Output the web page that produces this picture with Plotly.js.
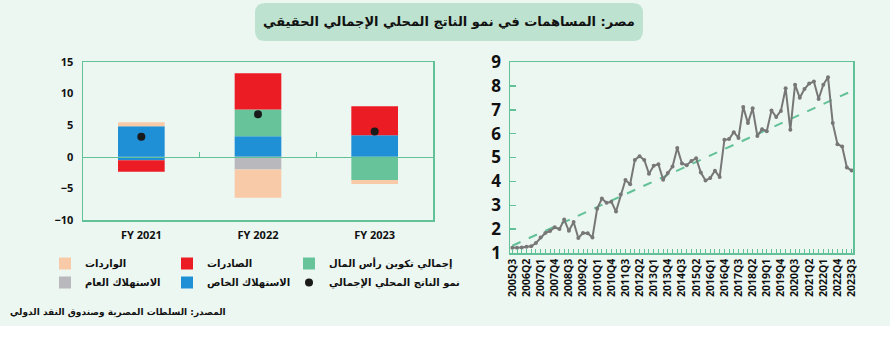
<!DOCTYPE html>
<html>
<head>
<meta charset="utf-8">
<script src="https://cdn.plot.ly/plotly-3.0.1.min.js"></script>
<style>html,body{margin:0;padding:0;background:#fff;}#chart{width:890px;height:341px;}</style>
</head>
<body>
<div id="chart"></div>
<script>
// ---------- Left chart data (contributions to real GDP growth, pp) ----------
const fiscalYears = ['FY 2021', 'FY 2022', 'FY 2023'];
const privateConsumption = [4.84, 3.26, 3.42];
const privateConsumptionBelowZero = [-0.53, 0, 0];
const governmentConsumption = [0, -2.0, 0];
const investment = [0, 4.21, -3.68];
const exportsContrib = [-1.84, 5.74, 4.58];
const importsContrib = [0.63, -4.47, -0.63];
const gdpGrowth = [3.16, 6.74, 4.0];

// ---------- Right chart data ----------
const quarters = [
 '2005Q3','2005Q4','2006Q1','2006Q2','2006Q3','2006Q4','2007Q1','2007Q2','2007Q3','2007Q4',
 '2008Q1','2008Q2','2008Q3','2008Q4','2009Q1','2009Q2','2009Q3','2009Q4','2010Q1','2010Q2',
 '2010Q3','2010Q4','2011Q1','2011Q2','2011Q3','2011Q4','2012Q1','2012Q2','2012Q3','2012Q4',
 '2013Q1','2013Q2','2013Q3','2013Q4','2014Q1','2014Q2','2014Q3','2014Q4','2015Q1','2015Q2',
 '2015Q3','2015Q4','2016Q1','2016Q2','2016Q3','2016Q4','2017Q1','2017Q2','2017Q3','2017Q4',
 '2018Q1','2018Q2','2018Q3','2018Q4','2019Q1','2019Q2','2019Q3','2019Q4','2020Q1','2020Q2',
 '2020Q3','2020Q4','2021Q1','2021Q2','2021Q3','2021Q4','2022Q1','2022Q2','2022Q3','2022Q4',
 '2023Q1','2023Q2','2023Q3'];
const quarterValues = [
 1.22,1.22,1.23,1.26,1.28,1.42,1.65,1.84,1.92,2.08,
 2.00,2.40,1.93,2.30,1.63,1.84,1.83,1.65,2.85,3.28,
 3.10,3.15,2.74,3.45,4.06,3.88,4.90,5.05,4.90,4.32,
 4.65,4.72,4.07,4.35,4.62,5.40,4.75,4.68,4.85,4.97,
 4.37,4.04,4.14,4.45,4.18,5.74,5.77,6.06,5.82,7.12,
 6.44,7.06,5.90,6.18,6.10,6.97,6.70,6.95,7.90,6.16,
 8.05,7.50,7.87,8.10,8.18,7.45,8.05,8.36,6.44,5.56,
 5.46,4.58,4.46];
const quarterTickLabels = ['2005Q3','2006Q2','2007Q1','2007Q4','2008Q3','2009Q2','2010Q1','2010Q4',
 '2011Q3','2012Q2','2013Q1','2013Q4','2014Q3','2015Q2','2016Q1','2016Q4','2017Q3','2018Q2',
 '2019Q1','2019Q4','2020Q3','2021Q2','2022Q1','2022Q4','2023Q3'];

// ---------- Texts ----------
const titleText = 'مصر: المساهمات في نمو الناتج المحلي الإجمالي الحقيقي';
const sourceText = 'المصدر: السلطات المصرية وصندوق النقد الدولي';
const names = {
  imports: 'الواردات', exports: 'الصادرات', investment: 'إجمالي تكوين رأس المال',
  gov: 'الاستهلاك العام', priv: 'الاستهلاك الخاص', gdp: 'نمو الناتج المحلي الإجمالي'
};

// ---------- Styling ----------
const W = 890, H = 341;
const fx = p => p / W, fy = p => 1 - p / H;
const GREEN = '#62c196', BG = '#edf7f2';
const C = {priv:'#1f8fd6', gov:'#b9b9bd', inv:'#66c39a', exp:'#ec1c24', imp:'#f8caa8', gdp:'#1a1a1a'};
const numFont = {family:'Open Sans, Liberation Sans, sans-serif', color:'#111', weight:'bold'};
const arFont = {family:'DejaVu Sans, sans-serif', color:'#111', weight:'bold'};

// least-squares trend from the quarterly series
const n = quarterValues.length;
const idx = quarterValues.map((_, i) => i);
const mx = idx.reduce((a, b) => a + b, 0) / n;
const my = quarterValues.reduce((a, b) => a + b, 0) / n;
let sxy = 0, sxx = 0;
idx.forEach(i => { sxy += (i - mx) * (quarterValues[i] - my); sxx += (i - mx) * (i - mx); });
const slope = sxy / sxx, icpt = my - slope * mx;
const trend = idx.map(i => icpt + slope * i);

const barBase = {type:'bar', x:fiscalYears, xaxis:'x', yaxis:'y', width:0.4, marker:{line:{width:0}}, hoverinfo:'y'};
const data = [
  Object.assign({}, barBase, {y:privateConsumption, name:names.priv, marker:{color:C.priv}, legend:'legend2', legendrank:2}),
  Object.assign({}, barBase, {y:privateConsumptionBelowZero, name:names.priv, marker:{color:C.priv}, showlegend:false}),
  Object.assign({}, barBase, {y:governmentConsumption, name:names.gov, marker:{color:C.gov}, legend:'legend', legendrank:2}),
  Object.assign({}, barBase, {y:investment, name:names.investment, marker:{color:C.inv}, legend:'legend3', legendrank:1}),
  Object.assign({}, barBase, {y:exportsContrib, name:names.exports, marker:{color:C.exp}, legend:'legend2', legendrank:1}),
  Object.assign({}, barBase, {y:importsContrib, name:names.imports, marker:{color:C.imp}, legend:'legend', legendrank:1}),
  {type:'scatter', mode:'markers', x:fiscalYears, y:gdpGrowth, xaxis:'x', yaxis:'y', name:names.gdp,
   marker:{color:C.gdp, size:8}, legend:'legend3', legendrank:2},
  {type:'scatter', mode:'lines', x:[], y:[], xaxis:'x2', yaxis:'y', showlegend:false, hoverinfo:'skip'},
  {type:'scatter', mode:'lines', x:quarters, y:trend, xaxis:'x3', yaxis:'y2', showlegend:false,
   line:{color:GREEN, width:2, dash:'dash'}},
  {type:'scatter', mode:'lines+markers', x:quarters, y:quarterValues, xaxis:'x3', yaxis:'y2', showlegend:false,
   line:{color:'#777', width:2}, marker:{color:'#777', size:4}}
];

const leftX = [fx(83), fx(433)], leftY = [fy(220), fy(62)];
const yRangeL = [-10, 15];
const zeroFrac = leftY[0] + (0 - yRangeL[0]) / (yRangeL[1] - yRangeL[0]) * (leftY[1] - leftY[0]);

function roundedRect(x0, y0, x1, y1, r) {
  const X = fx, Y = fy;
  return `M${X(x0+r)},${Y(y0)} L${X(x1-r)},${Y(y0)} Q${X(x1)},${Y(y0)} ${X(x1)},${Y(y0+r)} ` +
         `L${X(x1)},${Y(y1-r)} Q${X(x1)},${Y(y1)} ${X(x1-r)},${Y(y1)} L${X(x0+r)},${Y(y1)} ` +
         `Q${X(x0)},${Y(y1)} ${X(x0)},${Y(y1-r)} L${X(x0)},${Y(y0+r)} Q${X(x0)},${Y(y0)} ${X(x0+r)},${Y(y0)} Z`;
}

const legendCommon = {orientation:'v', bgcolor:'rgba(0,0,0,0)', font:Object.assign({}, arFont, {size:10}),
  xanchor:'left', yanchor:'top', tracegroupgap:0, itemclick:false, itemdoubleclick:false};

const layout = {
  width:W, height:H,
  margin:{l:0, r:0, t:0, b:0},
  paper_bgcolor:'#ffffff', plot_bgcolor:'rgba(0,0,0,0)',
  barmode:'relative', showlegend:true,
  xaxis:{domain:leftX, anchor:'y', type:'category', range:[-0.5, 2.5], showline:true, mirror:true,
    linecolor:GREEN, linewidth:1.5, ticks:'', showgrid:false, zeroline:false, automargin:false,
    tickfont:Object.assign({}, numFont, {size:11}), ticklabelstandoff:4, fixedrange:true},
  xaxis2:{overlaying:'x', anchor:'free', position:zeroFrac, range:[-0.5, 2.5], showline:true,
    linecolor:GREEN, linewidth:1.5, ticks:'inside', tickvals:[0.5, 1.5], ticklen:5, tickcolor:GREEN,
    tickwidth:1.5, showticklabels:false, showgrid:false, zeroline:false, automargin:false, fixedrange:true},
  yaxis:{domain:leftY, anchor:'x', range:yRangeL, dtick:5, tick0:0, showline:true, mirror:true,
    linecolor:GREEN, linewidth:1.5, ticks:'', showgrid:false, zeroline:false, automargin:false,
    tickfont:Object.assign({}, numFont, {size:11}), ticklabelstandoff:6, fixedrange:true},
  xaxis3:{domain:[fx(510), fx(853)], anchor:'y2', type:'category', range:[-0.5, 72.3],
    tickvals:quarters, ticktext:quarters.map(q => quarterTickLabels.includes(q) ? q : ''),
    tickangle:-90, ticks:'inside', ticklen:4, tickcolor:GREEN, tickwidth:1,
    showline:true, mirror:true, linecolor:GREEN, linewidth:1.5, showgrid:false, zeroline:false,
    automargin:false, tickfont:Object.assign({}, numFont, {size:10.5}), fixedrange:true},
  yaxis2:{domain:[fy(253), fy(62)], anchor:'x3', range:[1, 9], dtick:1, tick0:1,
    ticks:'inside', ticklen:6, tickcolor:GREEN, tickwidth:1.5,
    showline:true, mirror:true, linecolor:GREEN, linewidth:1.5, showgrid:false, zeroline:false,
    automargin:false, tickfont:Object.assign({}, numFont, {size:17}), ticklabelstandoff:4, fixedrange:true},
  legend: Object.assign({}, legendCommon, {x:fx(45), y:fy(249)}),
  legend2: Object.assign({}, legendCommon, {x:fx(167), y:fy(249)}),
  legend3: Object.assign({}, legendCommon, {x:fx(289), y:fy(249)}),
  shapes:[
    {type:'rect', xref:'paper', yref:'paper', x0:0, x1:1, y0:fy(326), y1:1, fillcolor:BG, line:{width:0}, layer:'below'},
    {type:'path', xref:'paper', yref:'paper', path:roundedRect(255, 3, 643, 41, 10),
     fillcolor:'#bde2cf', line:{width:0}, layer:'below'}
  ],
  annotations:[
    {xref:'paper', yref:'paper', x:fx(449), y:fy(22), xanchor:'center', yanchor:'middle', showarrow:false,
     text:titleText, font:Object.assign({}, arFont, {size:13})},
    {xref:'paper', yref:'paper', x:fx(228), y:fy(312), xanchor:'right', yanchor:'middle', showarrow:false,
     text:sourceText, font:Object.assign({}, arFont, {size:9})}
  ]
};

Plotly.newPlot('chart', data, layout, {displayModeBar:false, staticPlot:true});
</script>
</body>
</html>
